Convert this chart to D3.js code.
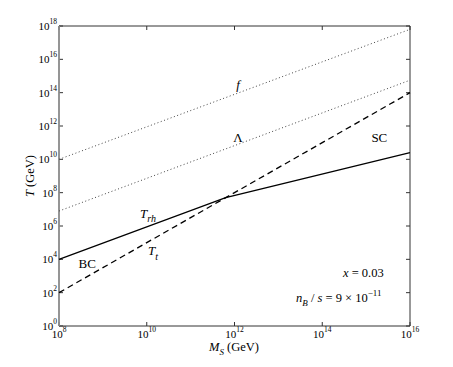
<!DOCTYPE html>
<html><head><meta charset="utf-8">
<script src="https://cdn.jsdelivr.net/npm/d3@7"></script>
<style>
body{margin:0;background:#fff}
text{font-family:"Liberation Serif","Times New Roman",serif;fill:#000}
</style>
</head><body>
<svg id="c" width="453" height="367"></svg>
<script>
// ---- data ----
const xTickExps = [8, 10, 12, 14, 16];
const yTickExps = [0, 2, 4, 6, 8, 10, 12, 14, 16, 18];
const massEnds = [1e8, 1e16];
const fValues = [1e10, 6.3e17];
const lambdaValues = [7.9e6, 5.6e14];
const ttValues = [1e2, 1e14];
const trhMass = [1e8, 6.3e11, 1e16];
const trhValues = [1e4, 5.0e7, 2.5e10];
// annotation anchors (data coordinates, glyph centres)
const labelF = [1.2e12, 2.9e14];
const labelLambda = [1.2e12, 2.1e11];
const labelSC = [2.0e15, 2.1e11];
const labelTrh = [7.0e9, 6.0e6];
const labelTt = [1.07e10, 3.5e4];
const labelBC = [4.4e8, 5.9e3];

// ---- layout ----
const svg = d3.select("#c");
const L = 59, R = 410, T = 26, B = 326;
const x = d3.scaleLog().domain([1e8, 1e16]).range([L, R]);
const y = d3.scaleLog().domain([1, 1e18]).range([B, T]);

// ticks (inward, mirrored)
const tk = 4;
const g = svg.append("g");
xTickExps.forEach(e => {
  const px = x(Math.pow(10, e));
  g.append("line").attr("x1", px).attr("x2", px).attr("y1", B).attr("y2", B - tk).attr("stroke", "#333");
  g.append("line").attr("x1", px).attr("x2", px).attr("y1", T).attr("y2", T + tk).attr("stroke", "#333");
  const t = g.append("text").attr("x", px).attr("y", 338).attr("text-anchor", "middle").attr("font-size", 11);
  t.append("tspan").text("10");
  t.append("tspan").attr("dy", -6).attr("font-size", 7.5).text(e);
});
yTickExps.forEach(e => {
  const py = y(Math.pow(10, e));
  g.append("line").attr("x1", L).attr("x2", L + tk).attr("y1", py).attr("y2", py).attr("stroke", "#333");
  g.append("line").attr("x1", R).attr("x2", R - tk).attr("y1", py).attr("y2", py).attr("stroke", "#333");
  const t = g.append("text").attr("x", 57).attr("y", py + 4).attr("text-anchor", "end").attr("font-size", 11);
  t.append("tspan").text("10");
  t.append("tspan").attr("dy", -6).attr("font-size", 7.5).text(e);
});

// frame
svg.append("line").attr("x1", L).attr("x2", R).attr("y1", T).attr("y2", T).attr("stroke", "#333");
svg.append("line").attr("x1", R).attr("x2", R).attr("y1", T).attr("y2", B).attr("stroke", "#333");
svg.append("line").attr("x1", L).attr("x2", R).attr("y1", B).attr("y2", B).attr("stroke", "#333");
svg.append("line").attr("x1", L).attr("x2", L).attr("y1", T).attr("y2", B).attr("stroke", "#8a8a8a").attr("stroke-width", 1.8);

// lines
const line = d3.line().x(d => x(d[0])).y(d => y(d[1]));
const pairs = (ms, vs) => ms.map((m, i) => [m, vs[i]]);
svg.append("path").attr("d", line(pairs(massEnds, fValues))).attr("fill", "none")
  .attr("stroke", "#444").attr("stroke-width", 1).attr("stroke-dasharray", "1,2.5");
svg.append("path").attr("d", line(pairs(massEnds, lambdaValues))).attr("fill", "none")
  .attr("stroke", "#444").attr("stroke-width", 1).attr("stroke-dasharray", "1,2.5");
svg.append("path").attr("d", line(pairs(massEnds, ttValues))).attr("fill", "none")
  .attr("stroke", "#000").attr("stroke-width", 1.3).attr("stroke-dasharray", "6,4");
svg.append("path").attr("d", line(pairs(trhMass, trhValues))).attr("fill", "none")
  .attr("stroke", "#000").attr("stroke-width", 1.3);

// annotations
function lab(pos, parts, anchor) {
  const t = svg.append("text").attr("x", x(pos[0])).attr("y", y(pos[1])).attr("font-size", 13)
    .attr("text-anchor", anchor || "middle");
  parts.forEach((p, k) => {
    const s = t.append("tspan").text(p.t);
    if (p.i) s.attr("font-style", "italic");
    s.attr("dy", (k === 0 ? 4.5 : 0) + (p.dy || 0));
    if (p.fs) s.attr("font-size", p.fs);
  });
  return t;
}
lab(labelF, [{t: "f", i: 1}]);
lab(labelLambda, [{t: "Λ"}]);
lab(labelSC, [{t: "SC"}]);
lab(labelBC, [{t: "BC"}]);
lab(labelTrh, [{t: "T", i: 1}, {t: "rh", i: 1, dy: 4, fs: 10}], "start");
lab(labelTt, [{t: "T", i: 1}, {t: "t", i: 1, dy: 5, fs: 10}], "start");

// parameter texts
const p1 = svg.append("text").attr("x", 343).attr("y", 277).attr("font-size", 12.5);
p1.append("tspan").attr("font-style", "italic").text("x");
p1.append("tspan").text(" = 0.03");
const p2 = svg.append("text").attr("x", 296).attr("y", 302).attr("font-size", 12.5);
p2.append("tspan").attr("font-style", "italic").text("n");
p2.append("tspan").attr("font-style", "italic").attr("font-size", 9).attr("dy", 4).text("B");
p2.append("tspan").attr("dy", -4).text(" / ");
p2.append("tspan").attr("font-style", "italic").text("s");
p2.append("tspan").text(" = 9 × 10");
p2.append("tspan").attr("font-size", 9).attr("dy", -6).text("−11");

// axis titles
const xt = svg.append("text").attr("x", 234).attr("y", 351).attr("text-anchor", "middle").attr("font-size", 12.5);
xt.append("tspan").attr("font-style", "italic").text("M");
xt.append("tspan").attr("font-style", "italic").attr("font-size", 9).attr("dy", 4).text("S");
xt.append("tspan").attr("dy", -4).text("  (GeV)");
const yt = svg.append("text").attr("transform", "translate(34,176) rotate(-90)").attr("text-anchor", "middle").attr("font-size", 12.5);
yt.append("tspan").attr("font-style", "italic").text("T");
yt.append("tspan").text(" (GeV)");
</script>
</body></html>
